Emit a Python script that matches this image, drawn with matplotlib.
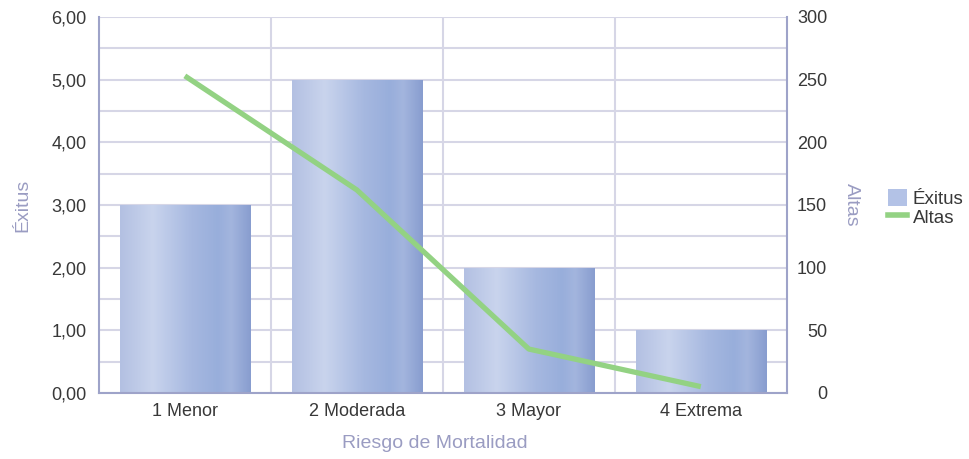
import matplotlib.pyplot as plt
import numpy as np
from matplotlib.colors import LinearSegmentedColormap
from matplotlib.patches import Patch
from matplotlib.lines import Line2D

plt.rcParams['font.family'] = ['Liberation Sans', 'DejaVu Sans']

# datos
categorias = ['1 Menor', '2 Moderada', '3 Mayor', '4 Extrema']
exitus = [3, 5, 2, 1]
altas = [253, 162, 35, 5]

AXIS_COLOR = '#9ea3c9'
GRID_COLOR = '#d6d6e6'
LABEL_COLOR = '#9a9cc2'
TICK_COLOR = '#383838'
LINE_COLOR = '#93d283'
TICK_SIZE = 13
LABEL_SIZE = 14

fig = plt.figure(figsize=(9.69, 4.59), dpi=100)
ax = fig.add_axes([0.102, 0.144, 0.710, 0.819])
ax2 = ax.twinx()

x = np.arange(1, len(categorias) + 1)

# barras con degradado horizontal
grad = LinearSegmentedColormap.from_list('barra', [
    (0.0, '#b3c0e2'), (0.25, '#c9d4ed'), (0.55, '#a6b8e0'),
    (0.75, '#98aedb'), (0.85, '#a3b5de'), (1.0, '#889dcf')])
bars = ax.bar(x, exitus, width=0.756, color='none', zorder=2)
for b in bars:
    x0, y0 = b.get_x(), b.get_y()
    w, h = b.get_width(), b.get_height()
    img = ax.imshow(np.linspace(0, 1, 256).reshape(1, -1), cmap=grad,
                    extent=[x0, x0 + w, y0, y0 + h], aspect='auto', zorder=2)
    img.set_clip_path(b)

ax.set_xlim(0.5, 4.5)
ax.set_ylim(0, 6)
ax.set_yticks(np.arange(0, 6.01, 1))
ax.set_yticklabels([f'{v:.2f}'.replace('.', ',') for v in range(7)])
ax.set_yticks(np.arange(0.5, 6, 1), minor=True)
ax.set_xticks(x)
ax.set_xticklabels(categorias)
ax.set_xticks([1.5, 2.5, 3.5], minor=True)

# rejilla
ax.grid(True, which='both', axis='y', color=GRID_COLOR, lw=1.5, zorder=0)
ax.grid(True, which='minor', axis='x', color=GRID_COLOR, lw=1.5, zorder=0)
ax.set_axisbelow(True)

ax.tick_params(axis='both', which='both', length=0, colors=TICK_COLOR, labelsize=TICK_SIZE)
ax.tick_params(axis='y', pad=9)
ax.tick_params(axis='x', pad=7)

for s in ['top', 'right']:
    ax.spines[s].set_visible(False)
for s in ['left', 'bottom']:
    ax.spines[s].set_color(AXIS_COLOR)
    ax.spines[s].set_linewidth(1.5)

ax.set_xlabel('Riesgo de Mortalidad', color=LABEL_COLOR, fontsize=LABEL_SIZE, labelpad=11)
ax.xaxis.label.set_x(0.488)
ax.set_ylabel('Éxitus', color=LABEL_COLOR, fontsize=LABEL_SIZE, labelpad=14)

# línea de altas en el eje secundario
ax2.plot(x, altas, color=LINE_COLOR, lw=3.8, solid_capstyle='butt', zorder=5)
ax2.set_ylim(0, 300)
ax2.set_yticks(np.arange(0, 301, 50))
ax2.tick_params(axis='y', length=0, colors=TICK_COLOR, labelsize=TICK_SIZE, pad=29)
for lbl in ax2.get_yticklabels():
    lbl.set_horizontalalignment('right')
for s in ['top', 'left', 'bottom']:
    ax2.spines[s].set_visible(False)
ax2.spines['right'].set_color(AXIS_COLOR)
ax2.spines['right'].set_linewidth(1.5)
ax2.set_ylabel('Altas', color=LABEL_COLOR, fontsize=LABEL_SIZE, rotation=270, labelpad=24)

handles = [Patch(facecolor='#b3c2e6', edgecolor='none'),
           Line2D([0], [0], color=LINE_COLOR, lw=4)]
fig.legend(handles, ['Éxitus', 'Altas'], loc='center left',
           bbox_to_anchor=(0.916, 0.547), frameon=False, fontsize=13.5,
           borderpad=0, borderaxespad=0,
           handlelength=1.05, handleheight=1.0, handletextpad=0.3,
           labelspacing=0.0, labelcolor=TICK_COLOR)

fig.savefig('out.png', dpi=100)
